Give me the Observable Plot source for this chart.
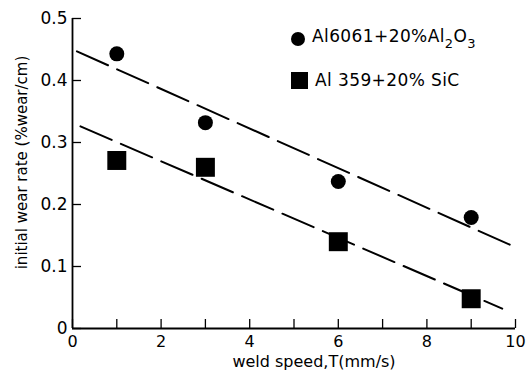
<!DOCTYPE html>
<html><head><meta charset="utf-8">
<script src="https://cdn.jsdelivr.net/npm/d3@7"></script>
<script src="https://cdn.jsdelivr.net/npm/@observablehq/plot@0.6"></script>
<style>
body{margin:0;background:#fff;}
#wrap{position:relative;width:530px;height:376px;font-family:"DejaVu Sans",sans-serif;color:#000;}
.leg{position:absolute;left:291px;font-size:17px;display:flex;align-items:center;white-space:nowrap;letter-spacing:0.4px;}
.mk{display:inline-block;background:#000;margin-right:7px;}
sub{font-size:13px;vertical-align:-6px;}
</style></head><body><div id="wrap"></div>
<script>
// Data
const weldSpeed = [1, 3, 6, 9];
const al6061 = [0.443, 0.332, 0.237, 0.179];
const al359 = [0.271, 0.260, 0.140, 0.048];
const fit6061X = [0.1, 10];
const fit6061Y = [0.447, 0.131];
const fit359X = [0.18, 9.7];
const fit359Y = [0.326, 0.032];
const xTickLabels = [0, 2, 4, 6, 8, 10];
const xTickMarks = [0, 1, 2, 3, 4, 5, 6, 7, 8, 9, 10];
const yTicks = [0, 0.1, 0.2, 0.3, 0.4, 0.5];
const yTickLabels = ["0", "0.1", "0.2", "0.3", "0.4", "0.5"];
const xLabel = "weld speed,T(mm/s)";
const yLabel = "initial wear rate (%wear/cm)";

const pts6061 = weldSpeed.map((x, i) => ({x, y: al6061[i]}));
const pts359 = weldSpeed.map((x, i) => ({x, y: al359[i]}));
const line6061 = fit6061X.map((x, i) => ({x, y: fit6061Y[i]}));
const line359 = fit359X.map((x, i) => ({x, y: fit359Y[i]}));

const chart = Plot.plot({
  width: 530, height: 376,
  marginLeft: 72, marginRight: 15, marginTop: 18, marginBottom: 48,
  style: {fontFamily: '"DejaVu Sans", sans-serif', background: "#fff", color: "#000"},
  x: {domain: [0, 10]},
  y: {domain: [0, 0.5]},
  marks: [
    Plot.axisX({ticks: xTickMarks, tickSize: -9, tickFormat: () => "", label: null, strokeWidth: 1.3}),
    Plot.axisX({ticks: xTickLabels, tickSize: 0, tickPadding: 7, fontSize: 16, label: null}),
    Plot.axisY({ticks: yTicks, tickSize: -9, tickFormat: () => "", label: null, strokeWidth: 1.3}),
    Plot.axisY({ticks: yTicks, tickSize: 0, tickPadding: 5, fontSize: 17, label: null,
      tickFormat: (d) => yTickLabels[yTicks.indexOf(d)]}),
    Plot.ruleX([0], {strokeWidth: 1.8}),
    Plot.ruleY([0], {strokeWidth: 1.8}),
    Plot.line(line6061, {x: "x", y: "y", strokeWidth: 2, strokeDasharray: "34,10"}),
    Plot.line(line359, {x: "x", y: "y", strokeWidth: 2, strokeDasharray: "34,10"}),
    Plot.dot(pts6061, {x: "x", y: "y", r: 7.5, fill: "#000", stroke: "none"}),
    Plot.dot(pts359, {x: "x", y: "y", r: 10.7, symbol: "square", fill: "#000", stroke: "none"}),
    Plot.text([xLabel], {frameAnchor: "bottom", dx: 20, dy: 38, fontSize: 16, text: d => d}),
    Plot.text([yLabel], {frameAnchor: "left", textAnchor: "middle", rotate: -90, dx: -50, dy: -11, fontSize: 15, text: d => d})
  ]
});
const wrap = document.getElementById("wrap");
wrap.appendChild(chart);

const legendItems = [
  {html: "Al6061+20%Al<sub>2</sub>O<sub>3</sub>", shape: "circle", top: 26},
  {html: "Al 359+20% SiC", shape: "square", top: 70}
];
legendItems.forEach(it => {
  const d = document.createElement("div");
  d.className = "leg";
  d.style.top = it.top + "px";
  const m = document.createElement("span");
  m.className = "mk";
  if (it.shape === "circle") { m.style.width = "14px"; m.style.height = "14px"; m.style.borderRadius = "50%"; }
  else { m.style.width = "17px"; m.style.height = "17px"; }
  d.appendChild(m);
  const t = document.createElement("span");
  t.innerHTML = it.html;
  d.appendChild(t);
  wrap.appendChild(d);
});
</script>
</body></html>
